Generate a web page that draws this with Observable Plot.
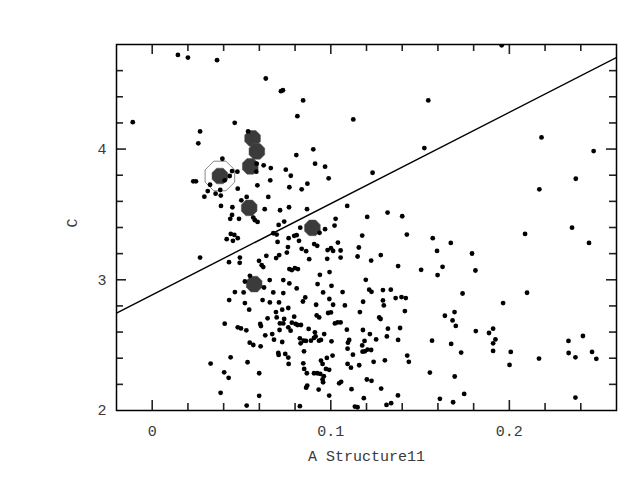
<!DOCTYPE html>
<html>
<head>
<meta charset="utf-8">
<script src="https://cdn.jsdelivr.net/npm/d3@7"></script>
<script src="https://cdn.jsdelivr.net/npm/@observablehq/plot@0.6"></script>
<style>
  html, body { margin: 0; padding: 0; background: #fff; }
  #chart svg { display: block; }
</style>
</head>
<body>
<div id="chart"></div>
<script>
// ---- data ----
const xLabel = "A Structure11";
const yLabel = "C";
const xDomain = [-0.02, 0.26];
const yDomain = [2, 4.8];
const xMajor = [0, 0.1, 0.2];
const xMajorText = ["0", "0.1", "0.2"];
const xMinor = [0.02, 0.04, 0.06, 0.08, 0.12, 0.14, 0.16, 0.18, 0.22, 0.24];
const yMajor = [2, 3, 4];
const yMajorText = ["2", "3", "4"];
const yMinor = [2.2, 2.4, 2.6, 2.8, 3.2, 3.4, 3.6, 3.8, 4.2, 4.4, 4.6];

// fitted line end points
const lineX = [-0.02, 0.26];
const lineY = [2.745, 4.70];

// highlighted (large octagon) points
const bigX = [0.0562, 0.0586, 0.0549, 0.0379, 0.0543, 0.0897, 0.0571];
const bigY = [4.082, 3.982, 3.868, 3.794, 3.550, 3.397, 2.967];
// circled point
const ringX = [0.0379];
const ringY = [3.794];

// all small points
const ptX = [
0.0144,0.0200,0.0363,0.0636,0.0721,0.0732,0.0845,0.0813,-0.0109,0.0462,
0.0268,0.0537,0.0258,0.0902,0.0807,0.0393,0.0912,0.0585,0.0624,0.0664,
0.0748,0.0776,0.0447,0.0477,0.0583,0.0230,0.0245,0.0406,0.0434,0.0324,
0.0589,0.0661,0.0768,0.0837,0.0869,0.0479,0.0311,0.0381,0.1957,0.1126,
0.1546,0.0968,0.0988,0.1524,0.1234,0.2180,0.2472,0.2168,0.2372,0.0292,
0.0355,0.0384,0.0499,0.0529,0.0650,0.0385,0.0449,0.0630,0.0716,0.0766,
0.0867,0.0447,0.0437,0.0486,0.0566,0.0575,0.0590,0.0739,0.0708,0.0829,
0.0968,0.0937,0.0678,0.0697,0.0440,0.0460,0.0479,0.0452,0.0417,0.0795,
0.0809,0.0764,0.0822,0.0702,0.0907,0.0924,0.0760,0.0837,0.0862,0.0982,
0.0754,0.0711,0.0694,0.0639,0.0268,0.0491,0.0490,0.0430,0.0598,0.0613,
0.0622,0.0879,0.0980,0.0768,0.0782,0.0799,0.0816,0.0939,0.0993,0.0547,
0.0658,0.0734,0.0768,0.0519,0.0626,0.0809,0.0926,0.0463,0.0512,0.0678,
0.0734,0.0857,0.0957,0.0431,0.0519,0.0618,0.0659,0.0710,0.0844,0.0918,
0.0992,0.0543,0.0693,0.0728,0.0762,0.0697,0.0739,0.0795,0.0921,0.0935,
0.0985,0.0646,0.0406,0.0605,0.0609,0.0715,0.0734,0.0782,0.0803,0.0814,
0.0833,0.0762,0.0775,0.0479,0.0497,0.0527,0.0713,0.0876,0.0911,0.0963,
0.0633,0.0672,0.0682,0.0728,0.0827,0.0831,0.0848,0.0861,0.0889,0.0906,
0.0915,0.0934,0.0945,0.0546,0.0566,0.0607,0.0850,0.0706,0.0708,0.0745,
0.0762,0.0764,0.0978,0.0945,0.0954,0.0439,0.0327,0.0534,0.0846,0.0851,
0.0866,0.0906,0.0924,0.0941,0.0973,0.0991,0.0961,0.0954,0.0957,0.0403,
0.0428,0.0599,0.0868,0.0862,0.0932,0.0383,0.0599,0.0529,0.0827,0.0991,
0.1092,0.1027,0.1021,0.1204,0.1318,0.1400,0.1176,0.1426,0.1571,0.1672,
0.1040,0.1001,0.1013,0.1055,0.1055,0.1157,0.1150,0.1280,0.1226,0.1595,
0.1377,0.1506,0.1626,0.1598,0.1196,0.1004,0.1066,0.1215,0.1228,0.1292,
0.1336,0.1363,0.1396,0.1420,0.1181,0.1292,0.1013,0.1079,0.1297,0.1001,
0.1163,0.1271,0.1279,0.1415,0.1639,0.1693,0.1682,0.1700,0.1023,0.1038,
0.1055,0.1090,0.1180,0.1320,0.1388,0.1219,0.1314,0.1254,0.1004,0.1103,
0.1096,0.1189,0.1176,0.1377,0.1567,0.1674,0.1094,0.1206,0.1226,0.1178,
0.1191,0.1010,0.1124,0.1428,0.1437,0.1303,0.1240,0.1094,0.1113,0.1159,
0.1555,0.1694,0.1202,0.1228,0.1047,0.1058,0.1282,0.1116,0.1376,0.1185,
0.1611,0.1685,0.1135,0.1150,0.1312,0.1338,0.1738,0.1791,0.1810,0.1812,
0.1730,0.1747,0.1886,0.1909,0.1922,0.1909,0.1909,0.1965,0.2001,0.2008,
0.2088,0.2099,0.2166,0.2351,0.2446,0.2331,0.2332,0.2370,0.2370,0.2412,
0.2463,0.2487
];
const ptY = [
4.720,4.700,4.680,4.540,4.443,4.450,4.372,4.252,4.206,4.201,
4.135,4.135,4.044,3.998,3.954,3.926,3.888,3.888,3.876,3.855,
3.842,3.796,3.832,3.827,3.827,3.753,3.753,3.761,3.794,3.727,
3.723,3.761,3.708,3.692,3.735,3.697,3.679,3.687,4.794,4.227,
4.372,3.865,3.776,4.008,3.819,4.089,3.985,3.692,3.773,3.636,
3.659,3.644,3.608,3.634,3.634,3.565,3.555,3.540,3.532,3.555,
3.540,3.496,3.466,3.466,3.476,3.456,3.443,3.445,3.420,3.399,
3.387,3.359,3.356,3.346,3.351,3.343,3.318,3.298,3.311,3.336,
3.341,3.318,3.298,3.290,3.273,3.260,3.250,3.237,3.219,3.227,
3.208,3.189,3.166,3.183,3.170,3.170,3.130,3.135,3.145,3.112,
3.097,3.158,3.160,3.082,3.074,3.089,3.082,3.038,3.059,3.030,
2.998,2.998,2.972,2.987,2.941,2.934,2.967,2.906,2.903,2.903,
2.898,2.865,2.903,2.845,2.822,2.845,2.827,2.827,2.834,2.809,
2.853,2.771,2.753,2.771,2.784,2.712,2.700,2.718,2.727,2.712,
2.746,2.705,2.664,2.662,2.646,2.666,2.666,2.672,2.662,2.654,
2.654,2.636,2.611,2.636,2.628,2.613,2.616,2.624,2.598,2.585,
2.575,2.585,2.542,2.524,2.552,2.514,2.534,2.532,2.534,2.555,
2.567,2.534,2.540,2.519,2.501,2.491,2.453,2.440,2.425,2.433,
2.405,2.356,2.402,2.382,2.356,2.407,2.359,2.369,2.361,2.318,
2.285,2.285,2.285,2.280,2.318,2.311,2.262,2.237,2.216,2.292,
2.250,2.285,2.191,2.175,2.160,2.135,2.112,2.038,2.033,2.114,
3.565,3.466,3.415,3.481,3.514,3.486,3.338,3.346,3.318,3.282,
3.285,3.242,3.221,3.224,3.170,3.247,3.178,3.189,3.147,3.221,
3.105,3.076,3.099,3.036,3.000,2.954,2.906,2.924,2.908,2.921,
2.924,2.860,2.868,2.860,2.832,2.842,2.809,2.804,2.804,2.750,
2.753,2.712,2.700,2.761,2.725,2.753,2.689,2.647,2.666,2.674,
2.674,2.618,2.616,2.626,2.631,2.585,2.567,2.544,2.529,2.540,
2.519,2.532,2.498,2.540,2.534,2.509,2.473,2.466,2.463,2.450,
2.453,2.420,2.427,2.420,2.372,2.384,2.372,2.356,2.328,2.346,
2.290,2.260,2.237,2.227,2.208,2.219,2.168,2.163,2.115,2.094,
2.089,2.063,2.030,2.025,2.043,2.056,2.895,3.201,3.071,2.608,
2.443,2.127,2.593,2.626,2.544,2.514,2.456,2.822,2.349,2.448,
3.351,2.901,2.397,3.399,3.282,2.532,2.440,2.407,2.099,2.570,
2.448,2.395
];

// ---- build tables ----
const points = ptX.map((x, i) => ({x, y: ptY[i]}));
const big = bigX.map((x, i) => ({x, y: bigY[i]}));
const ring = ringX.map((x, i) => ({x, y: ringY[i]}));
const fitLine = lineX.map((x, i) => ({x, y: lineY[i]}));
const xLab = xMajor.map((v, i) => ({v, t: xMajorText[i]}));
const yLab = yMajor.map((v, i) => ({v, t: yMajorText[i]}));
const yMajorInner = yMajor.filter(v => v > yDomain[0]);

// regular octagon symbol (flat top)
const octagon = {
  draw(ctx, size) {
    const r = Math.sqrt(size / Math.PI);
    for (let i = 0; i < 8; i++) {
      const a = Math.PI / 8 + i * Math.PI / 4;
      const px = r * Math.cos(a), py = r * Math.sin(a);
      if (i === 0) ctx.moveTo(px, py); else ctx.lineTo(px, py);
    }
    ctx.closePath();
  }
};

const font = "'Liberation Mono', 'DejaVu Sans Mono', monospace";
const txt = "#3a3a3a";
const tk = {stroke: "#222", strokeWidth: 1.6};
// plot frame is 500 x 366 px: insets leave 10 px (major) / 7 px (minor) ticks
const FW = 500, FH = 366;

const chart = Plot.plot({
  width: 635,
  height: 491,
  marginTop: 44,
  marginRight: 19,
  marginBottom: 81,
  marginLeft: 116,
  style: {background: "#fff", fontFamily: font},
  x: {domain: xDomain, axis: null},
  y: {domain: yDomain, axis: null},
  marks: [
    // inward ticks, bottom & top
    Plot.ruleX(xMajor, {x: d => d, insetTop: FH - 10, ...tk}),
    Plot.ruleX(xMinor, {x: d => d, insetTop: FH - 7, ...tk}),
    Plot.ruleX(xMajor, {x: d => d, insetBottom: FH - 10, ...tk}),
    Plot.ruleX(xMinor, {x: d => d, insetBottom: FH - 7, ...tk}),
    // inward ticks, left & right
    Plot.ruleY(yMajorInner, {y: d => d, insetRight: FW - 10, ...tk}),
    Plot.ruleY(yMinor, {y: d => d, insetRight: FW - 7, ...tk}),
    Plot.ruleY(yMajorInner, {y: d => d, insetLeft: FW - 10, ...tk}),
    Plot.ruleY(yMinor, {y: d => d, insetLeft: FW - 7, ...tk}),
    // tick labels
    Plot.text(xLab, {x: "v", text: "t", frameAnchor: "bottom", dy: 15, lineAnchor: "top",
      fontSize: 15, fill: txt}),
    Plot.text(yLab, {y: "v", text: "t", frameAnchor: "left", dx: -10, textAnchor: "end",
      lineAnchor: "middle", fontSize: 15, fill: txt}),
    // axis titles
    Plot.text([xLabel], {text: d => d, frameAnchor: "bottom", dy: 40, lineAnchor: "top",
      fontSize: 15, fill: txt}),
    Plot.text([yLabel], {text: d => d, frameAnchor: "left", dx: -44, rotate: -90,
      lineAnchor: "middle", fontSize: 15, fill: txt}),
    // fitted line
    Plot.line(fitLine, {x: "x", y: "y", stroke: "#000", strokeWidth: 1.4, clip: true}),
    // ring around one point
    Plot.dot(ring, {x: "x", y: "y", r: 16, symbol: octagon, stroke: "#8a8a8a", strokeWidth: 1, fill: "none"}),
    // big octagons
    Plot.dot(big, {x: "x", y: "y", r: 8.5, symbol: octagon, fill: "#3b3b3b", stroke: "#555", strokeWidth: 0.5}),
    // small points
    Plot.dot(points, {x: "x", y: "y", r: 2.4, fill: "#000", stroke: "none", clip: true}),
    Plot.frame({stroke: "#000", strokeWidth: 1.5})
  ]
});

document.getElementById("chart").appendChild(chart);
</script>
</body>
</html>
